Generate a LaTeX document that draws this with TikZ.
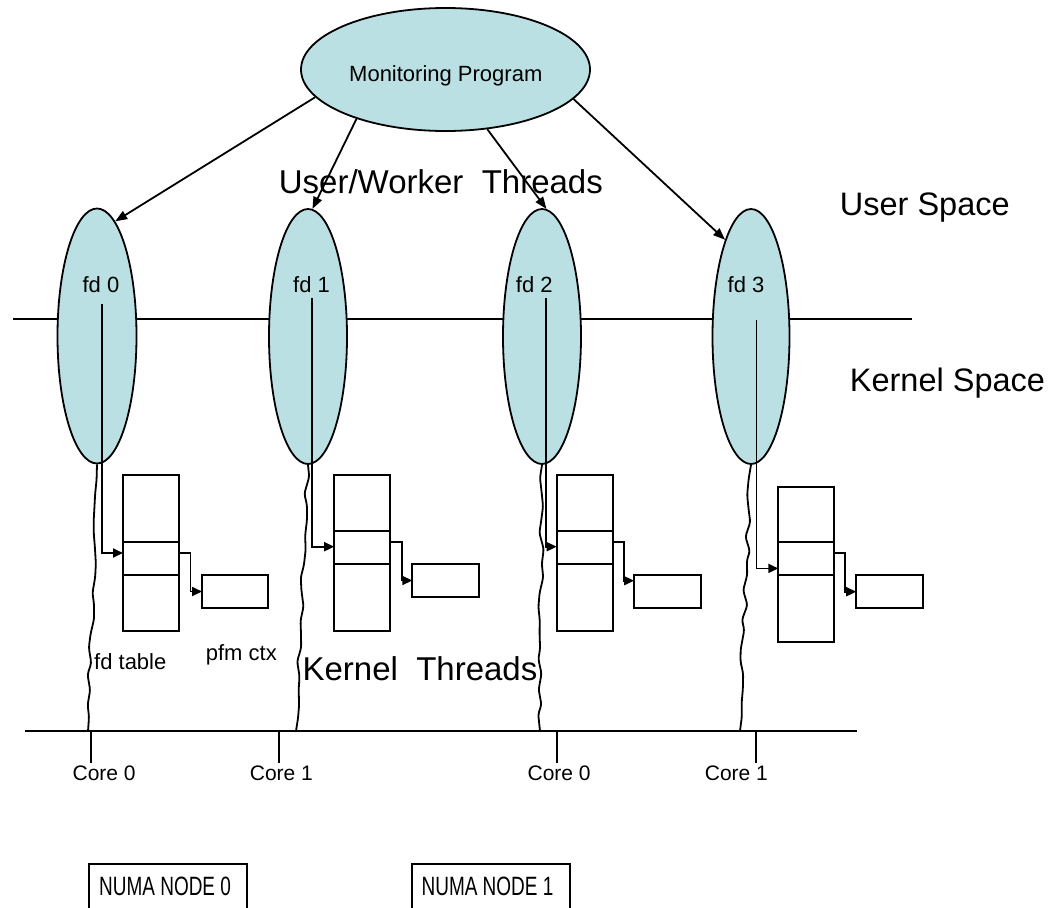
\documentclass[tikz,border=0pt]{standalone}
\usepackage{fontspec}
\usepackage{graphicx}
\setmainfont{Liberation Sans}
\usetikzlibrary{shapes.geometric,arrows.meta,decorations.pathmorphing}
\definecolor{threadfill}{RGB}{187,224,227}

\begin{document}
\begin{tikzpicture}[x=1pt,y=-1pt,line width=1.8pt,
  thread/.style={ellipse,draw,fill=threadfill,inner sep=0pt},
  txt/.style={inner sep=0pt,anchor=base west,font=\fontsize{#1}{#1}\selectfont},
  cell/.style={draw,rectangle,minimum width=56pt,inner sep=0pt,outer sep=0pt},
  ctxbox/.style={draw,rectangle,minimum width=67pt,inner sep=0pt,outer sep=0pt},
  numabox/.style={draw,rectangle,anchor=north west,minimum width=158pt,minimum height=70pt,inner sep=0pt},
  arr/.style={-{Triangle[length=12pt,width=9pt]}},
  ptr/.style={-{Triangle[length=10pt,width=9pt]}},
  wave/.style={decorate,decoration={random steps,segment length=14pt,amplitude=2.8pt},rounded corners=3pt}]
\pgfmathsetseed{11}
\clip (0,0) rectangle (1058,908);

% user/kernel boundary
\coordinate (ukL) at (13,319);
\coordinate (ukR) at (912,319);
\draw (ukL) -- (ukR);

% monitoring program and the worker threads
\node[thread,minimum width=289pt,minimum height=123pt] (mp) at (445.5,69.5) {};
\node[txt=22] (mpt) at (348.3,81.7) {Monitoring Program};

\node[thread,minimum width=79pt,minimum height=255pt] (fd0) at (97,336) {};
\node[thread,minimum width=78pt,minimum height=255pt] (fd1) at (308,336.5) {};
\node[thread,minimum width=78pt,minimum height=255pt] (fd2) at (542,336.5) {};
\node[thread,minimum width=77pt,minimum height=255pt] (fd3) at (751,336.5) {};

\node[txt=22] (fd0t) at (81.7,292.7) {fd 0};
\node[txt=22] (fd1t) at (292.3,292.7) {fd 1};
\node[txt=22] (fd2t) at (515,292.7) {fd 2};
\node[txt=22] (fd3t) at (726.8,292.7) {fd 3};

% section labels
\node[txt=33] (uwt) at (278,193.3) {User/Worker\ \ Threads};
\node[txt=32.5] (us) at (839,215) {User Space};
\node[txt=32.5] (ks) at (849,391.7) {Kernel Space};
\node[txt=33] (kt) at (301.7,680.7) {Kernel\ \ Threads};

% fd tables (three cells each) and pfm contexts
\node[cell,minimum height=67pt] (t0a) at (151,508.5) {};
\node[cell,minimum height=33pt] (t0b) at (151,558.5) {};
\node[cell,minimum height=56pt] (t0c) at (151,603) {};
\node[ctxbox,minimum width=66pt,minimum height=33pt] (c0) at (235,591.5) {};

\node[cell,minimum height=55.7pt] (t1a) at (362.2,502.9) {};
\node[cell,minimum height=33.6pt] (t1b) at (362.2,547.5) {};
\node[cell,minimum height=66.4pt] (t1c) at (362.2,597.5) {};
\node[ctxbox,minimum height=32.4pt] (c1) at (445.8,580.5) {};

\node[cell,minimum height=55.7pt] (t2a) at (584.7,502.9) {};
\node[cell,minimum height=33.6pt] (t2b) at (584.7,547.5) {};
\node[cell,minimum height=66.4pt] (t2c) at (584.7,597.5) {};
\node[ctxbox,minimum height=33.3pt] (c2) at (667.5,591.7) {};

\node[cell,minimum height=55.6pt] (t3a) at (806.3,514.5) {};
\node[cell,minimum height=32.7pt] (t3b) at (806.3,558.7) {};
\node[cell,minimum height=66.7pt] (t3c) at (806.3,608.4) {};
\node[ctxbox,minimum height=33.3pt] (c3) at (889.7,591.7) {};

\node[txt=22] (fdtab) at (93.3,669.3) {fd table};
\node[txt=22] (pfm) at (205,660) {pfm ctx};

% descriptor pointers
\coordinate (s0) at (101.7,304);
\coordinate (s1) at (312.3,298);
\coordinate (s2) at (545.7,298);
\coordinate (s3) at (756.4,320);
\draw[ptr] (s0) |- ([yshift=5.5pt]t0b.west);
\draw[ptr] (s1) |- ([yshift=0.8pt]t1b.west);
\draw[ptr] (s2) |- ([yshift=0.8pt]t2b.west);
\draw[ptr] (s3) |- ([yshift=-9.7pt]t3b.west);

\draw[ptr] ([yshift=5.5pt]t0b.east) -- ++(11.5,0) |- (c0.west);
\draw[ptr] ([yshift=5.8pt]t1b.east) -- ++(11.7,0) |- (c1.west);
\draw[ptr] ([yshift=5.8pt]t2b.east) -- ++(11.3,0) |- ([yshift=11pt]c2.west);
\draw[ptr] ([yshift=5.4pt]t3b.east) -- ++(10.7,0) |- (c3.west);

% monitoring program to each thread
\draw[arr] (mp.192.2) -- (fd0.81.8);
\draw[arr] (mp.209.6) -- (fd1.88);
\draw[arr] (mp.305.6) -- (fd2.88.7);
\draw[arr] (mp.347.9) -- (fd3.105);

% cores
\coordinate (bL) at (25,731);
\coordinate (bR) at (857,731);
\draw (bL) -- (bR);

\coordinate (w0) at (88,731);
\coordinate (w1) at (296,731);
\coordinate (w2) at (540,731);
\coordinate (w3) at (740,731);
\draw[wave] (fd0.south) -- (w0);
\draw[wave] (fd1.south) -- (w1);
\draw[wave] (fd2.south) -- (w2);
\draw[wave] (fd3.south) -- (w3);

\foreach \i/\x in {0/91,1/279,2/556.7,3/756}{
  \coordinate (k\i t) at (\x,731);
  \coordinate (k\i b) at (\x,763);
  \draw (k\i t) -- (k\i b);
}
\node[txt=21] (core0a) at (71.7,780) {Core 0};
\node[txt=21] (core1a) at (249,780) {Core 1};
\node[txt=21] (core0b) at (526.7,780) {Core 0};
\node[txt=21] (core1b) at (704,780) {Core 1};

% NUMA nodes
\node[numabox] (numa0) at (88,863) {};
\node[numabox] (numa1) at (411,863) {};
\node[txt=26.5] (numa0t) at (98.3,895) {\scalebox{0.716}[1]{NUMA NODE 0}};
\node[txt=26.5] (numa1t) at (420.7,895) {\scalebox{0.716}[1]{NUMA NODE 1}};
\end{tikzpicture}
\end{document}
